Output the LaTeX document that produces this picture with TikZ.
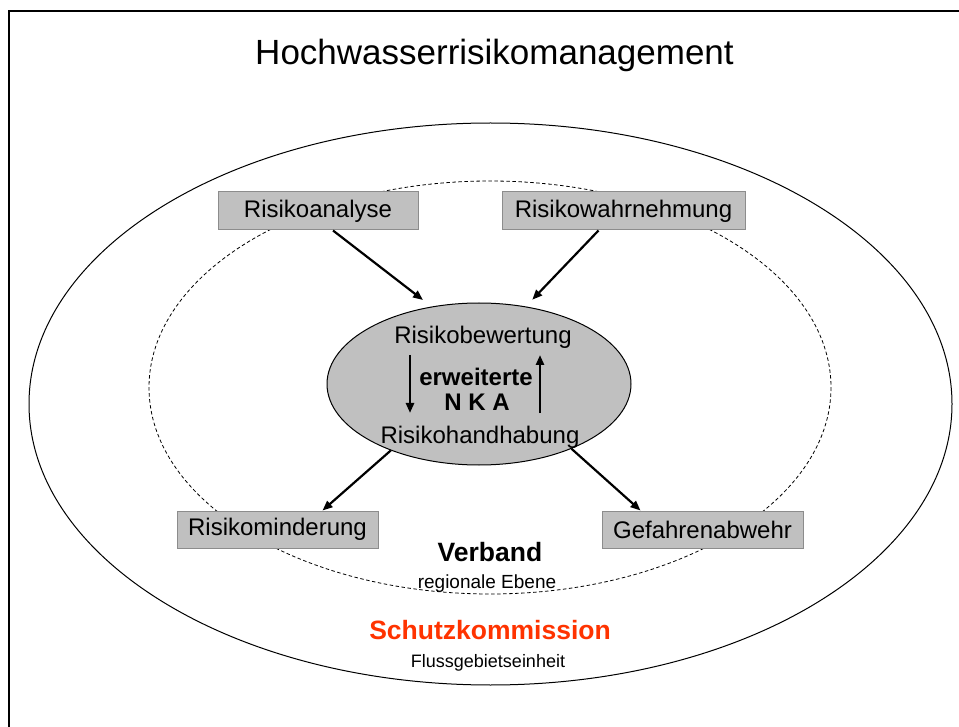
\documentclass[tikz,border=0pt]{standalone}
\usepackage{fontspec}
\setmainfont{Liberation Sans}
\usetikzlibrary{arrows.meta,calc,shapes.geometric}
\definecolor{boxfill}{RGB}{192,192,192}
\definecolor{boxline}{RGB}{140,140,140}
\definecolor{redtxt}{RGB}{255,51,0}
\begin{document}
\begin{tikzpicture}[x=1pt,y=-1pt,
  fs/.style={font=\fontsize{#1}{#1}\selectfont},
  greybox/.style={draw=boxline,fill=boxfill,line width=1pt,minimum height=38pt,inner sep=0pt,fs=24},
  arr/.style={line width=2.2pt,-{Triangle[length=10pt,width=8pt]}},
  inarr/.style={line width=2.5pt,-{Triangle[length=10pt,width=8pt]}},
  lbl/.style={anchor=base,inner sep=0pt}]
\useasboundingbox (0,0) rectangle (959,727);
% frame
\draw[line width=2.5pt] (9,728) -- (9,11) -- (960,11);
% title
\node[lbl,fs=35] (title) at (494.5,65) {Hochwasserrisikomanagement};
% outer and inner ellipses
\draw[line width=1pt] (490.5,404) ellipse [x radius=461.5, y radius=281];
\draw[line width=0.8pt,dash pattern=on 3.5pt off 2.5pt] (490,387.5) ellipse [x radius=341, y radius=206.5];
% boxes
\node[greybox,minimum width=200pt] (ra) at (318,211) {Risikoanalyse};
\node[greybox,minimum width=243pt] (rw) at (623.5,211) {Risikowahrnehmung};
\node[greybox,minimum width=201pt,minimum height=37pt] (rm) at (277.5,529.5) {Risikominderung};
\node[greybox,minimum width=201pt,minimum height=37pt] (ga) at (702.5,529.5) {Gefahrenabwehr};
% central ellipse
\node[ellipse,draw,line width=1pt,fill=boxfill,minimum width=304pt,minimum height=162pt,inner sep=0pt] (el) at (479,384) {};
\node[lbl,fs=24] (rb) at (483,344) {Risikobewertung};
\node[lbl,fs=24] (rh) at (480,443) {Risikohandhabung};
\node[lbl,font=\fontsize{24}{24}\selectfont\bfseries] (ew) at (476,386) {erweiterte};
\node[lbl,font=\fontsize{24}{24}\selectfont\bfseries] (nka) at (477,410) {N K A};
% inner arrows
\coordinate (d1) at ($(el.center)+(-69,-29)$);
\coordinate (d2) at ($(el.center)+(-69,29)$);
\coordinate (u1) at ($(el.center)+(61,29)$);
\coordinate (u2) at ($(el.center)+(61,-29)$);
\draw[inarr] (d1) -- (d2);
\draw[inarr] (u1) -- (u2);
% connectors
\draw[arr] ($(ra.south)+(15,0)$) -- ($(el.123)+(-6,-7)$);
\draw[arr] ($(rw.south)+(-25,0)$) -- ($(el.58)+(5,-7)$);
\draw[arr] (el.217) -- ($(rm.north)+(45,0)$);
\draw[arr] (el.-35) -- ($(ga.north)+(-62,0)$);
% level labels
\node[lbl,font=\fontsize{26.5}{26.5}\selectfont\bfseries] (vb) at (490,561) {Verband};
\node[lbl,fs=19] (re) at (487,588) {regionale Ebene};
\node[lbl,font=\fontsize{26.5}{26.5}\selectfont\bfseries,text=redtxt] (sk) at (490,639) {Schutzkommission};
\node[lbl,fs=18] (fg) at (488,667) {Flussgebietseinheit};
\end{tikzpicture}
\end{document}
